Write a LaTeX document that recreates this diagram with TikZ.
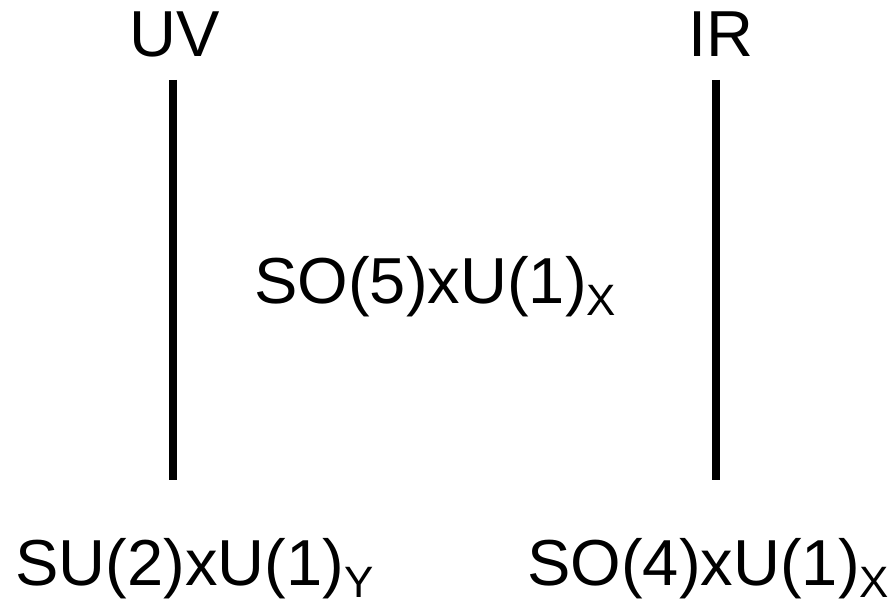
\documentclass[tikz,border=0pt]{standalone}
\usepackage{fontspec}
\setmainfont{Liberation Sans}
\usetikzlibrary{positioning}
\newcommand{\lowsub}[1]{{\fontsize{25}{27}\selectfont\raisebox{-7pt}{#1}}}

\begin{document}
\begin{tikzpicture}[every node/.style={font=\fontsize{37}{43}\selectfont,inner sep=0pt}]
\useasboundingbox (0,0) rectangle (17.78,12);
\coordinate (uvtop) at (3.46,10.40);
\coordinate (uvbot) at (3.46,2.40);
\coordinate (irtop) at (14.32,10.40);
\coordinate (irbot) at (14.32,2.40);
\draw[line width=4.5pt] (uvtop)--(uvbot);
\draw[line width=4.5pt] (irtop)--(irbot);
\node[anchor=base] (uv) at (3.50,10.86) {UV};
\node[anchor=base] (ir) at (14.42,10.86) {IR};
\node[anchor=base west] (mid) at (5.08,5.94) {SO(5)xU(1)\lowsub{X}};
\node[anchor=base west] (lowuv) at (0.30,0.30) {SU(2)xU(1)\lowsub{Y}};
\node[anchor=base west] (lowir) at (10.54,0.30) {SO(4)xU(1)\lowsub{X}};
\end{tikzpicture}
\end{document}
